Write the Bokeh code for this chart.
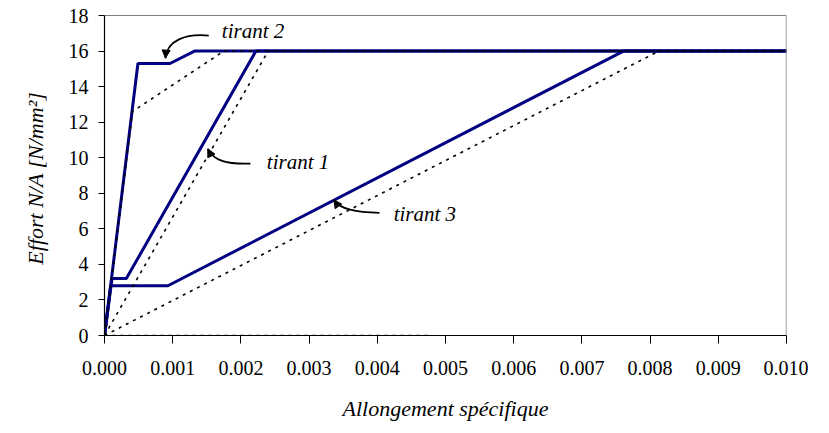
from bokeh.plotting import figure
from bokeh.models import (FixedTicker, NumeralTickFormatter, Range1d, Span, Arrow,
                          NormalHead, Label)
from bokeh.embed import file_html
from bokeh.resources import INLINE

# ---- data ----
tirant1_x = [0.0, 0.00011, 0.00032, 0.00222, 0.010]
tirant1_y = [0.0, 3.2, 3.2, 16.0, 16.0]
tirant2_x = [0.0, 0.00049, 0.00096, 0.00132, 0.010]
tirant2_y = [0.0, 15.3, 15.3, 16.0, 16.0]
tirant3_x = [0.0, 0.00009, 0.00093, 0.00761, 0.010]
tirant3_y = [0.0, 2.8, 2.8, 16.0, 16.0]

ref1_x = [0.0, 0.0024, 0.010]
ref1_y = [0.0, 16.0, 16.0]
ref2_x = [0.0, 0.00041, 0.00175, 0.010]
ref2_y = [0.0, 12.6, 16.0, 16.0]
ref3_x = [0.0, 0.00813, 0.010]
ref3_y = [0.0, 16.0, 16.0]
base_x = [0.0, 0.00475]
base_y = [0.0, 0.0]

x_ticks = [0.000, 0.001, 0.002, 0.003, 0.004, 0.005, 0.006, 0.007, 0.008, 0.009, 0.010]
y_ticks = [0, 2, 4, 6, 8, 10, 12, 14, 16, 18]

FONT = "Liberation Serif"
NAVY = "#000080"

p = figure(width=808, height=425, output_backend="svg", toolbar_location=None,
           x_range=Range1d(0, 0.010), y_range=Range1d(0, 18),
           min_border_left=104, min_border_right=22, min_border_top=15, min_border_bottom=90)
p.outline_line_color = None
p.xgrid.visible = False
p.ygrid.visible = False
p.background_fill_color = "white"
p.border_fill_color = "white"

# solid curves
for xs, ys in [(tirant1_x, tirant1_y), (tirant2_x, tirant2_y), (tirant3_x, tirant3_y)]:
    p.line(xs, ys, line_color=NAVY, line_width=3)

# dotted reference curves
for xs, ys in [(ref1_x, ref1_y), (ref2_x, ref2_y), (ref3_x, ref3_y), (base_x, base_y)]:
    p.line(xs, ys, line_color="black", line_width=1.6, line_dash="3 5")

# frame edges
p.add_layout(Span(location=18, dimension="width", line_color="black", line_width=1.2))
p.add_layout(Span(location=0.010, dimension="height", line_color="#808080", line_width=1.5))

# axes
p.xaxis.ticker = FixedTicker(ticks=x_ticks)
p.xaxis.formatter = NumeralTickFormatter(format="0.000")
p.yaxis.ticker = FixedTicker(ticks=y_ticks)
for ax in (p.xaxis[0], p.yaxis[0]):
    ax.axis_line_color = "black"
    ax.axis_line_width = 1.2
    ax.major_tick_line_color = "black"
    ax.major_tick_in = 0
    ax.minor_tick_line_color = None
    ax.major_label_text_font = FONT
    ax.major_label_text_font_size = "20px"
    ax.major_label_text_color = "black"
    ax.axis_label_text_font = FONT
    ax.axis_label_text_font_style = "italic"
    ax.axis_label_text_font_size = "22px"
    ax.axis_label_text_color = "black"

p.xaxis.major_tick_out = 8
p.xaxis.major_label_standoff = 17
p.xaxis.axis_label = "Allongement spécifique"
p.xaxis.axis_label_standoff = 18
p.yaxis.major_tick_out = 6
p.yaxis.major_label_standoff = 10
p.yaxis.axis_label = "Effort N/A  [N/mm²]"
p.yaxis.axis_label_standoff = 18

# annotations with curved arrows
annots = [
    # text, text x, text y, start, c0, c1, tip
    ("tirant 2", 0.00172, 17.15, (0.001529, 16.87), (0.00119, 16.99), (0.000915, 16.6), (0.000894, 15.6)),
    ("tirant 1", 0.00238, 9.75, (0.002141, 9.67), (0.00178, 9.62), (0.00160, 9.85), (0.001515, 10.50)),
    ("tirant 3", 0.00424, 6.84, (0.004032, 6.90), (0.00368, 6.92), (0.00346, 7.10), (0.003362, 7.63)),
]
for txt, tx, ty, s, c0, c1, t in annots:
    p.add_layout(Label(x=tx, y=ty, text=txt, text_font=FONT, text_font_style="italic",
                       text_font_size="21px", text_baseline="middle", text_color="black"))
    p.bezier(x0=[s[0]], y0=[s[1]], x1=[t[0]], y1=[t[1]], cx0=[c0[0]], cy0=[c0[1]],
             cx1=[c1[0]], cy1=[c1[1]], line_color="black", line_width=1.8)
    sx = t[0] + (c1[0] - t[0]) * 0.15
    sy = t[1] + (c1[1] - t[1]) * 0.15
    p.add_layout(Arrow(x_start=sx, y_start=sy, x_end=t[0], y_end=t[1], line_width=1.8,
                       line_color="black",
                       end=NormalHead(size=8, fill_color="black", line_color="black")))

open("out.html", "w").write(file_html(p, INLINE))
